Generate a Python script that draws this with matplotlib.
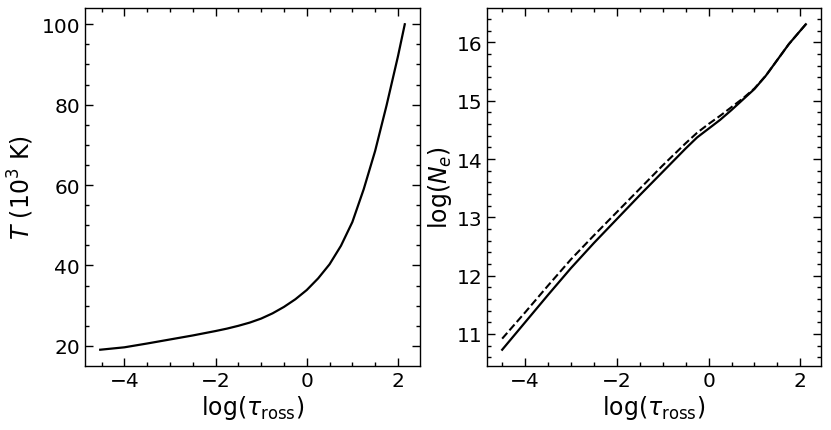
import matplotlib
matplotlib.use("Agg")
import matplotlib.pyplot as plt
from matplotlib.ticker import MultipleLocator

# Left panel: temperature structure
tau_T = [-4.53, -4.0, -3.5, -3.0, -2.5, -2.0, -1.75, -1.5, -1.25, -1.0, -0.75, -0.5, -0.25,
         0.0, 0.25, 0.5, 0.75, 1.0, 1.25, 1.5, 1.75, 2.0, 2.15]
T_vals = [19.05, 19.65, 20.6, 21.6, 22.6, 23.7, 24.3, 25.0, 25.8, 26.8, 28.1, 29.7, 31.6,
          33.9, 36.8, 40.3, 44.9, 50.8, 59.0, 68.5, 79.8, 92.0, 100.0]

# Right panel: electron density
tau_N = [-4.5, -4.0, -3.5, -3.0, -2.5, -2.0, -1.5, -1.0, -0.75, -0.5, -0.25, 0.0, 0.25,
         0.5, 0.75, 1.0, 1.25, 1.5, 1.75, 2.0, 2.12]
Ne_solid = [10.73, 11.2, 11.67, 12.13, 12.56, 12.97, 13.38, 13.78, 13.98, 14.18, 14.37, 14.52, 14.67,
            14.84, 15.02, 15.20, 15.43, 15.70, 15.97, 16.2, 16.31]
Ne_dashed = [10.92, 11.37, 11.83, 12.28, 12.69, 13.09, 13.49, 13.89, 14.08, 14.27, 14.45, 14.60, 14.74,
             14.89, 15.04, 15.21, 15.43, 15.70, 15.97, 16.2, 16.31]

fig = plt.figure(figsize=(8.31, 4.31), dpi=100)
ax1 = fig.add_axes([85/831, 1-367/431, (420-85)/831, (367-9)/431])
ax2 = fig.add_axes([487/831, 1-367/431, (821-487)/831, (367-9)/431])

ax1.plot(tau_T, T_vals, color='black', lw=1.6)
ax2.plot(tau_N, Ne_solid, color='black', lw=1.6, ls='-')
ax2.plot(tau_N, Ne_dashed, color='black', lw=1.5, ls='--')

ax1.set_ylabel(r'$T$ (10$^3$ K)', fontsize=17)
ax2.set_ylabel(r'log($N_e$)', fontsize=17, labelpad=2)
for ax in (ax1, ax2):
    ax.set_xlabel(r'log($\tau_{\rm ross}$)', fontsize=17, labelpad=2)
    ax.xaxis.set_major_locator(MultipleLocator(2))
    ax.xaxis.set_minor_locator(MultipleLocator(0.5))
    ax.tick_params(which='both', direction='in', top=True, right=True, labelsize=14.5)
    ax.tick_params(which='major', length=5.5, width=1.0)
    ax.tick_params(which='minor', length=3.2, width=1.0)
    for s in ax.spines.values():
        s.set_linewidth(1.0)

ax1.yaxis.set_major_locator(MultipleLocator(20))
ax1.yaxis.set_minor_locator(MultipleLocator(5))
ax2.yaxis.set_major_locator(MultipleLocator(1))
ax2.yaxis.set_minor_locator(MultipleLocator(0.2))

fig.savefig('out.png', dpi=100)
